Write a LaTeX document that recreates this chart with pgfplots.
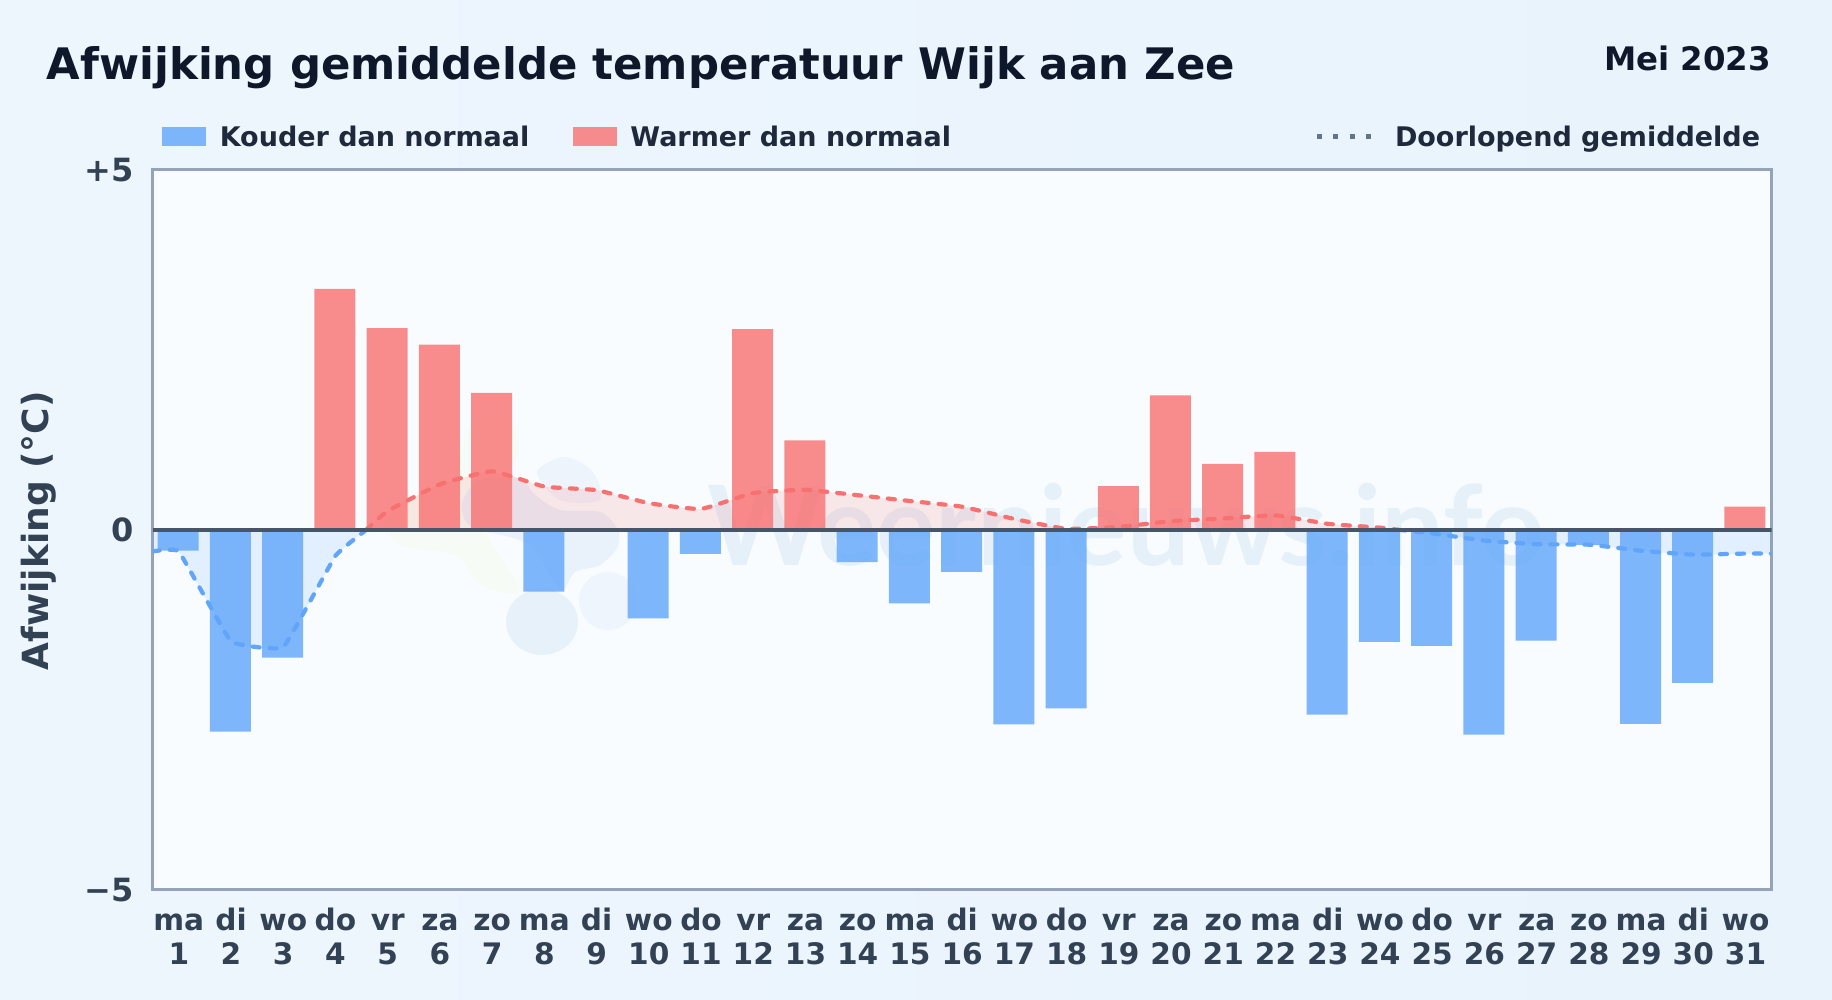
\documentclass[border=0pt]{standalone}
\usepackage{fontspec}
\setmainfont{DejaVu Sans}
\newfontfamily\wmfont{Lato}
\usepackage{pgfplots}
\pgfplotsset{compat=1.18}

\definecolor{bgleft}{HTML}{EEF6FD}
\definecolor{bgright}{HTML}{E8F3FC}
\definecolor{plotbg}{HTML}{F8FCFF}
\definecolor{randkleur}{HTML}{94A3B8}
\definecolor{nul}{HTML}{475569}
\definecolor{titel}{HTML}{0F172A}
\definecolor{legtxt}{HTML}{1E293B}
\definecolor{tickkleur}{HTML}{334155}
\definecolor{koud}{HTML}{60A5FA}
\definecolor{warm}{HTML}{F87171}
\definecolor{grijs}{HTML}{64748B}
\definecolor{wm}{HTML}{DCE9F6}

\newcommand{\px}[1]{\fontsize{#1}{#1}\selectfont\bfseries}

\begin{document}
\begin{tikzpicture}[x=1pt,y=1pt]
	% achtergrond en plotvlak
	\fill[left color=bgleft, right color=bgright] (0,0) rectangle (1832,1000);
	\fill[plotbg] (152.7,110) rectangle (1771.7,830.4);

	% watermerk, in pixels van boven gemeten
	\begin{scope}[shift={(0,1000)},yscale=-1]
		\fill[green!25!yellow!4!plotbg] plot[smooth cycle] coordinates {
			(470,425) (505,418) (520,450) (500,480) (480,520) (520,590) (480,585) (455,555) (400,545) (385,520) (420,490) (455,470)};
		\fill[wm!40!plotbg] plot[smooth cycle] coordinates {
			(537,472) (565,457) (593,472) (600,500) (560,500)};
		\fill[wm!55!plotbg] plot[smooth cycle] coordinates {
			(463,500) (480,480) (520,478) (535,495) (560,510) (600,512) (618,530) (617,548) (600,565) (575,572) (560,590) (530,545) (480,530) (465,520)};
		\fill[wm!60!plotbg] (542,622) ellipse (36 and 33);
		\fill[wm!35!plotbg] (608,601) ellipse (29 and 29);
	\end{scope}
	\node[anchor=base west, inner sep=0pt, text=wm!65!plotbg, font=\wmfont\bfseries\fontsize{111}{111}\selectfont] at (707,434) {Weernieuws.info};

	\node[anchor=base west, inner sep=0pt, text=titel, font=\px{43.4}] at (46.7,920.4) {Afwijking gemiddelde temperatuur Wijk aan Zee};
	\node[anchor=base east, inner sep=0pt, text=titel, font=\px{32.4}] at (1771,929) {Mei 2023};

	\begin{axis}[
		at={(152.7pt,110pt)}, anchor=south west,
		scale only axis,
		width=1619pt, height=720.4pt,
		xmin=0.5, xmax=31.5, ymin=-5, ymax=5,
		axis line style={randkleur, line width=3pt},
		major tick length=0pt,
		xtick={1,...,31},
		xticklabels={ma\\1,di\\2,wo\\3,do\\4,vr\\5,za\\6,zo\\7,ma\\8,di\\9,wo\\10,do\\11,vr\\12,za\\13,zo\\14,ma\\15,di\\16,wo\\17,do\\18,vr\\19,za\\20,zo\\21,ma\\22,di\\23,wo\\24,do\\25,vr\\26,za\\27,zo\\28,ma\\29,di\\30,wo\\31},
		x tick label style={align=center, text=tickkleur, anchor=base, font=\fontsize{29.6}{34}\selectfont\bfseries, yshift=-74.5pt},
		ytick={-5,0,5},
		yticklabels={−5,0,+5},
		y tick label style={text=tickkleur, font=\px{32}, xshift=-15.5pt},
		ylabel={Afwijking (°C)},
		y label style={at={(axis description cs:-0.0706,0.4985)}, anchor=center, text=tickkleur, font=\px{36}},
		legend columns=3,
		legend cell align=left,
		legend style={
			at={(axis description cs:0.0056,1.0458)}, anchor=base west,
			draw=none, fill=none, inner sep=0pt, outer sep=0pt,
			font=\px{27}, text=legtxt,
			nodes={inner sep=0pt, outer sep=0pt},
			/tikz/column 1/.style={column sep=14pt},
			/tikz/column 2/.style={column sep=44pt},
			/tikz/column 3/.style={column sep=13pt},
			/tikz/column 4/.style={column sep=363pt},
			/tikz/column 5/.style={column sep=21pt},
		},
		]

		% vlakken tussen gemiddelde en nul
		\addplot[draw=none, fill=koud, fill opacity=0.15, forget plot, smooth, tension=0.15] coordinates {
			(0.5,-0.30) (1,-0.30) (2,-1.55) (3,-1.63) (4,-0.36) (4.59,0)
		} \closedcycle;
		\addplot[draw=none, fill=warm, fill opacity=0.15, forget plot, smooth, tension=0.25] coordinates {
			(4.59,0) (5,0.26) (6,0.63) (7,0.81) (8,0.60) (9,0.55) (10,0.37) (11,0.29)
			(12,0.51) (13,0.555) (14,0.48) (15,0.40) (16,0.32) (17,0.15) (18,0.014)
			(19,0.04) (20,0.12) (21,0.157) (22,0.20) (23,0.083) (24,0.03) (24.35,0)
		} \closedcycle;
		\addplot[draw=none, fill=koud, fill opacity=0.15, forget plot, smooth, tension=0.25] coordinates {
			(24.35,0) (25,-0.05) (26,-0.15) (27,-0.20) (28,-0.207) (29,-0.29) (30,-0.345) (31,-0.33) (31.5,-0.33)
		} \closedcycle;

		% staven
		\addplot[ybar, bar width=41pt, bar shift=-0.6pt, draw=none, fill=koud, fill opacity=0.8,
			legend image code/.code={\fill[koud, fill opacity=0.8] (0,-9.5pt) rectangle (44pt,9.5pt);}] coordinates {
			(1,-0.29) (2,-2.80) (3,-1.775) (8,-0.86) (9,0) (10,-1.23) (11,-0.335) (14,-0.45)
			(15,-1.02) (16,-0.585) (17,-2.70) (18,-2.48) (23,-2.565) (24,-1.555) (25,-1.61)
			(26,-2.845) (27,-1.54) (28,-0.21) (29,-2.695) (30,-2.125)
		};
		\addlegendentry{Kouder dan normaal}
		\addplot[ybar, bar width=41pt, bar shift=-0.6pt, draw=none, fill=warm, fill opacity=0.8,
			legend image code/.code={\fill[warm, fill opacity=0.8] (0,-9.5pt) rectangle (44pt,9.5pt);}] coordinates {
			(4,3.345) (5,2.80) (6,2.57) (7,1.90) (12,2.785) (13,1.24) (19,0.605) (20,1.865)
			(21,0.915) (22,1.08) (31,0.32)
		};
		\addlegendentry{Warmer dan normaal}

		% doorlopend gemiddelde
		\addplot[koud, line width=4.2pt, dash pattern=on 7pt off 10pt, line cap=round, smooth, tension=0.15, forget plot] coordinates {
			(0.5,-0.30) (1,-0.30) (2,-1.55) (3,-1.63) (4,-0.36) (4.59,0)
		};
		\addplot[warm, line width=4.2pt, dash pattern=on 7pt off 10pt, line cap=round, smooth, tension=0.25, forget plot] coordinates {
			(4.59,0) (5,0.26) (6,0.63) (7,0.81) (8,0.60) (9,0.55) (10,0.37) (11,0.29)
			(12,0.51) (13,0.555) (14,0.48) (15,0.40) (16,0.32) (17,0.15) (18,0.014)
			(19,0.04) (20,0.12) (21,0.157) (22,0.20) (23,0.083) (24,0.03) (24.35,0)
		};
		\addplot[koud, line width=4.2pt, dash pattern=on 7pt off 10pt, line cap=round, smooth, tension=0.25, forget plot] coordinates {
			(24.35,0) (25,-0.05) (26,-0.15) (27,-0.20) (28,-0.207) (29,-0.29) (30,-0.345) (31,-0.33) (31.5,-0.33)
		};

		% nullijn
		\addplot[nul, line width=4pt, forget plot] coordinates {(0.5,0) (31.5,0)};

		\addlegendimage{legend image code/.code={\draw[grijs, line width=5pt, dash pattern=on 5pt off 11.5pt] (0,0) -- (55pt,0);}}
		\addlegendentry{Doorlopend gemiddelde}
	\end{axis}
\end{tikzpicture}
\end{document}
